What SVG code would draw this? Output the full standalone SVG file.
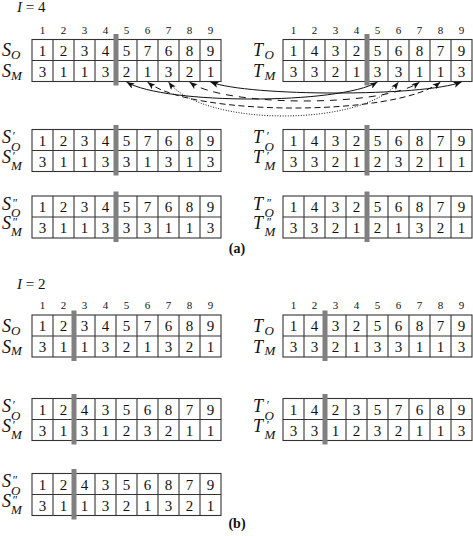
<svg xmlns="http://www.w3.org/2000/svg" width="473" height="536" viewBox="0 0 473 536">
<style>
text{font-family:"Liberation Serif","Times New Roman",serif;fill:#111}
.n{font-size:15px;text-anchor:middle}
.h{font-size:11px;text-anchor:middle}
.l{font-size:18px;font-style:italic}
.s{font-size:13px}
.p{font-size:12px}
.bar{fill:#808080}
.g{fill:#fff;stroke:#333;stroke-width:1.1}
.gl{fill:none;stroke:#333;stroke-width:1.1}
.c{fill:none;stroke:#111;stroke-width:1;marker-start:url(#ah);marker-end:url(#ah)}
.t{font-size:14px;font-weight:bold;text-anchor:middle}
</style>
<defs>
<marker id="ah" viewBox="0 0 8 6" refX="8" refY="3" markerWidth="8" markerHeight="6" markerUnits="userSpaceOnUse" orient="auto-start-reverse"><path d="M0,0L8,3L0,6L2,3z" fill="#111"/></marker>
<g id="grid"><rect class="g" width="189" height="42"/><path class="gl" d="M21,0V42M42,0V42M63,0V42M84,0V42M105,0V42M126,0V42M147,0V42M168,0V42M0,21H189"/></g>
</defs>
<rect width="473" height="536" fill="#fff"/>

<text x="17" y="12" font-size="15"><tspan font-style="italic">I</tspan> = 4</text>

<g id="a-S" transform="translate(0,39.5)">
<text class="h" x="42.5 63.5 84.5 105.5 126.5 147.5 168.5 189.5 210.5" y="-6">123456789</text>
<text class="l"><tspan x="2" y="16">S</tspan><tspan class="s" x="11" y="19">O</tspan><tspan x="2" y="37.5">S</tspan><tspan class="s" x="11" y="40">M</tspan></text>
<use href="#grid" x="32"/>
<rect class="bar" x="113.5" y="-5.5" width="5" height="51.5"/>
<text class="n" x="42.5 63.5 84.5 105.5 126.5 147.5 168.5 189.5 210.5" y="16">123457689</text>
<text class="n" x="42.5 63.5 84.5 105.5 126.5 147.5 168.5 189.5 210.5" y="37">311321321</text>
</g>

<g id="a-T" transform="translate(0,39.5)">
<text class="h" x="293.5 314.5 335.5 356.5 377.5 398.5 419.5 440.5 461.5" y="-6">123456789</text>
<text class="l"><tspan x="253" y="16">T</tspan><tspan class="s" x="264.5" y="19">O</tspan><tspan x="253" y="37.5">T</tspan><tspan class="s" x="264.5" y="40">M</tspan></text>
<use href="#grid" x="283"/>
<rect class="bar" x="364.5" y="-5.5" width="5" height="51.5"/>
<text class="n" x="293.5 314.5 335.5 356.5 377.5 398.5 419.5 440.5 461.5" y="16">143256879</text>
<text class="n" x="293.5 314.5 335.5 356.5 377.5 398.5 419.5 440.5 461.5" y="37">332133113</text>
</g>

<g id="connectors">
<path class="c" d="M126.5,82 C164.5,104.7 339.5,104.7 377.5,82"/>
<path class="c" d="M210.5,82 C248.5,96.7 423.5,96.7 461.5,82"/>
<path class="c" stroke-dasharray="1,1.6" d="M168.5,82 C203.5,127.3 363.5,127.3 398.5,82"/>
<path class="c" stroke-dasharray="6,3.5" d="M147.5,82 C191.5,116.7 396.5,116.7 440.5,82"/>
<path class="c" stroke-dasharray="7,6" d="M189.5,82 C224.5,107.3 384.5,107.3 419.5,82"/>
</g>

<g id="a-S1" transform="translate(0,129.5)">
<text class="l"><tspan x="2" y="13.5">S</tspan><tspan class="p" x="12" y="10.5">′</tspan><tspan class="s" x="11" y="21">O</tspan><tspan x="2" y="33">S</tspan><tspan class="p" x="12" y="30">′</tspan><tspan class="s" x="11" y="40">M</tspan></text>
<use href="#grid" x="32"/>
<rect class="bar" x="113.5" y="-4.5" width="5" height="50.5"/>
<text class="n" x="42.5 63.5 84.5 105.5 126.5 147.5 168.5 189.5 210.5" y="16">123457689</text>
<text class="n" x="42.5 63.5 84.5 105.5 126.5 147.5 168.5 189.5 210.5" y="37">311331313</text>
</g>

<g id="a-T1" transform="translate(0,129.5)">
<text class="l"><tspan x="253" y="13.5">T</tspan><tspan class="p" x="266" y="10.5">′</tspan><tspan class="s" x="264.5" y="21">O</tspan><tspan x="253" y="33">T</tspan><tspan class="p" x="266" y="30">′</tspan><tspan class="s" x="264.5" y="40">M</tspan></text>
<use href="#grid" x="283"/>
<rect class="bar" x="364.5" y="-4.5" width="5" height="50.5"/>
<text class="n" x="293.5 314.5 335.5 356.5 377.5 398.5 419.5 440.5 461.5" y="16">143256879</text>
<text class="n" x="293.5 314.5 335.5 356.5 377.5 398.5 419.5 440.5 461.5" y="37">332123211</text>
</g>

<g id="a-S2" transform="translate(0,196)">
<text class="l"><tspan x="2" y="13.5">S</tspan><tspan class="p" x="12" y="10.5">″</tspan><tspan class="s" x="11" y="21">O</tspan><tspan x="2" y="33">S</tspan><tspan class="p" x="12" y="30">″</tspan><tspan class="s" x="11" y="40">M</tspan></text>
<use href="#grid" x="32"/>
<rect class="bar" x="113.5" y="-4.5" width="5" height="50.5"/>
<text class="n" x="42.5 63.5 84.5 105.5 126.5 147.5 168.5 189.5 210.5" y="16">123457689</text>
<text class="n" x="42.5 63.5 84.5 105.5 126.5 147.5 168.5 189.5 210.5" y="37">311333113</text>
</g>

<g id="a-T2" transform="translate(0,196)">
<text class="l"><tspan x="253" y="13.5">T</tspan><tspan class="p" x="266" y="10.5">″</tspan><tspan class="s" x="264.5" y="21">O</tspan><tspan x="253" y="33">T</tspan><tspan class="p" x="266" y="30">″</tspan><tspan class="s" x="264.5" y="40">M</tspan></text>
<use href="#grid" x="283"/>
<rect class="bar" x="364.5" y="-4.5" width="5" height="50.5"/>
<text class="n" x="293.5 314.5 335.5 356.5 377.5 398.5 419.5 440.5 461.5" y="16">143256879</text>
<text class="n" x="293.5 314.5 335.5 356.5 377.5 398.5 419.5 440.5 461.5" y="37">332121321</text>
</g>

<text class="t" x="237" y="253">(a)</text>

<text x="17" y="288.5" font-size="15"><tspan font-style="italic">I</tspan> = 2</text>

<g id="b-S" transform="translate(0,315)">
<text class="h" x="42.5 63.5 84.5 105.5 126.5 147.5 168.5 189.5 210.5" y="-6">123456789</text>
<text class="l"><tspan x="2" y="16.5">S</tspan><tspan class="s" x="11" y="19.5">O</tspan><tspan x="2" y="37.5">S</tspan><tspan class="s" x="11" y="40">M</tspan></text>
<use href="#grid" x="32"/>
<rect class="bar" x="71.5" y="-4.5" width="5" height="50.5"/>
<text class="n" x="42.5 63.5 84.5 105.5 126.5 147.5 168.5 189.5 210.5" y="16">123457689</text>
<text class="n" x="42.5 63.5 84.5 105.5 126.5 147.5 168.5 189.5 210.5" y="37">311321321</text>
</g>

<g id="b-T" transform="translate(0,315)">
<text class="h" x="293.5 314.5 335.5 356.5 377.5 398.5 419.5 440.5 461.5" y="-6">123456789</text>
<text class="l"><tspan x="253" y="16.5">T</tspan><tspan class="s" x="264.5" y="19.5">O</tspan><tspan x="253" y="37.5">T</tspan><tspan class="s" x="264.5" y="40">M</tspan></text>
<use href="#grid" x="283"/>
<rect class="bar" x="322.5" y="-4.5" width="5" height="50.5"/>
<text class="n" x="293.5 314.5 335.5 356.5 377.5 398.5 419.5 440.5 461.5" y="16">143256879</text>
<text class="n" x="293.5 314.5 335.5 356.5 377.5 398.5 419.5 440.5 461.5" y="37">332133113</text>
</g>

<g id="b-S1" transform="translate(0,398.5)">
<text class="l"><tspan x="2" y="13.5">S</tspan><tspan class="p" x="12" y="10.5">′</tspan><tspan class="s" x="11" y="21">O</tspan><tspan x="2" y="33">S</tspan><tspan class="p" x="12" y="30">′</tspan><tspan class="s" x="11" y="40">M</tspan></text>
<use href="#grid" x="32"/>
<rect class="bar" x="71.5" y="-4.5" width="5" height="50.5"/>
<text class="n" x="42.5 63.5 84.5 105.5 126.5 147.5 168.5 189.5 210.5" y="16">124356879</text>
<text class="n" x="42.5 63.5 84.5 105.5 126.5 147.5 168.5 189.5 210.5" y="37">313123211</text>
</g>

<g id="b-T1" transform="translate(0,398.5)">
<text class="l"><tspan x="253" y="13.5">T</tspan><tspan class="p" x="266" y="10.5">′</tspan><tspan class="s" x="264.5" y="21">O</tspan><tspan x="253" y="33">T</tspan><tspan class="p" x="266" y="30">′</tspan><tspan class="s" x="264.5" y="40">M</tspan></text>
<use href="#grid" x="283"/>
<rect class="bar" x="322.5" y="-4.5" width="5" height="50.5"/>
<text class="n" x="293.5 314.5 335.5 356.5 377.5 398.5 419.5 440.5 461.5" y="16">142357689</text>
<text class="n" x="293.5 314.5 335.5 356.5 377.5 398.5 419.5 440.5 461.5" y="37">331232113</text>
</g>

<g id="b-S2" transform="translate(0,473.5)">
<text class="l"><tspan x="2" y="13.5">S</tspan><tspan class="p" x="12" y="10.5">″</tspan><tspan class="s" x="11" y="21">O</tspan><tspan x="2" y="33">S</tspan><tspan class="p" x="12" y="30">″</tspan><tspan class="s" x="11" y="40">M</tspan></text>
<use href="#grid" x="32"/>
<rect class="bar" x="71.5" y="-4.5" width="5" height="50.5"/>
<text class="n" x="42.5 63.5 84.5 105.5 126.5 147.5 168.5 189.5 210.5" y="16">124356879</text>
<text class="n" x="42.5 63.5 84.5 105.5 126.5 147.5 168.5 189.5 210.5" y="37">311321321</text>
</g>

<text class="t" x="237" y="528">(b)</text>
</svg>
